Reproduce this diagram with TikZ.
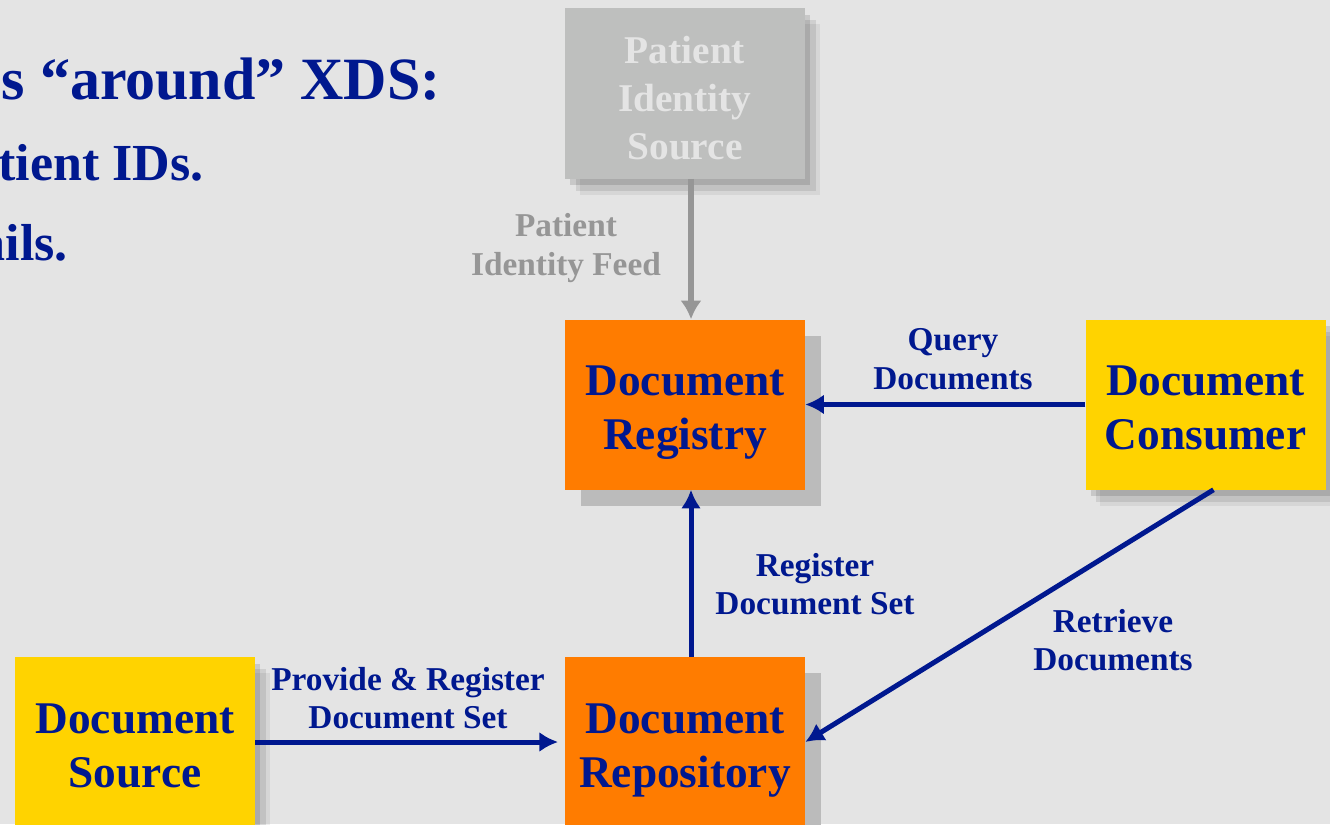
\documentclass[tikz,border=0pt]{standalone}
\usepackage{fontspec}
\setmainfont{Liberation Serif}
\usetikzlibrary{arrows.meta,shadows}
\definecolor{navy}{RGB}{0,24,143}
\definecolor{slidebg}{RGB}{228,228,228}
\definecolor{actororange}{RGB}{255,124,0}
\definecolor{actoryellow}{RGB}{255,211,0}
\definecolor{boxgray}{RGB}{190,191,190}
\definecolor{feedgray}{RGB}{150,150,150}
\definecolor{shadegray}{RGB}{187,187,187}
\tikzset{
  txn/.style={-{Latex[length=14pt,width=15pt]}, line width=3.75pt, draw=navy},
  feed/.style={-{Latex[length=14pt,width=16pt]}, line width=4.5pt, draw=feedgray},
  actor/.style={minimum width=180pt, minimum height=127.5pt, inner sep=0pt, align=center,
    text height=70pt, text depth=2pt,
    font=\bfseries\fontsize{34}{40.5}\selectfont, text=navy},
  softshadow/.style={drop shadow={shadow xshift=4pt,shadow yshift=-5pt,opacity=.12,fill=black},
    drop shadow={shadow xshift=8pt,shadow yshift=-9pt,opacity=.09,fill=black},
    drop shadow={shadow xshift=11pt,shadow yshift=-12pt,opacity=.06,fill=black}},
  corebox/.style={actor, fill=actororange,
    drop shadow={shadow xshift=12pt,shadow yshift=-12pt,opacity=1,fill=shadegray}},
  sidebox/.style={actor, fill=actoryellow, softshadow},
  lbl/.style={align=center, inner sep=0pt, text=navy, font=\bfseries\fontsize{25}{29}\selectfont},
  heading/.style={inner sep=0pt, text=navy, anchor=base east, font=\bfseries\fontsize{45}{54}\selectfont},
  subhead/.style={inner sep=0pt, text=navy, anchor=base east, font=\bfseries\fontsize{39}{47}\selectfont}
}
\begin{document}
\begin{tikzpicture}[x=0.75pt,y=-0.75pt]
  \useasboundingbox (0,0) rectangle (1330,824);
  \clip (0,0) rectangle (1330,824);
  \fill[slidebg] (0,0) rectangle (1330,824);
  % slide text cut at the left edge
  \node[heading] (title) at (441,99) {s “around” XDS:};
  \node[subhead] (ids) at (204,180) {tient IDs.};
  \node[subhead] (details) at (68,260) {ails.};
  % actors
  \node[actor, fill=boxgray, text=slidebg, softshadow, text height=100pt, text depth=1pt,
    font=\bfseries\fontsize{29.5}{36}\selectfont] (pis) at (685,93.5) {Patient\\Identity\\Source};
  \node[corebox] (registry) at (685,404.5) {Document\\Registry};
  \node[sidebox] (consumer) at (1205.5,404.5) {Document\\Consumer};
  \node[corebox] (repository) at (685,742) {Document\\Repository};
  \node[sidebox] (source) at (135,742) {Document\\Source};
  % transactions
  \draw[feed] ([xshift=4.5pt]pis.south) -- ([xshift=4.5pt]registry.north);
  \draw[txn] (consumer) -- (registry);
  \draw[txn] ([xshift=4.5pt]repository.north) -- ([xshift=4.5pt]registry.south);
  \draw[txn, shorten >=5pt] (source) -- (repository);
  \draw[txn] ([xshift=6pt]consumer.south) -- (repository.east);
  \node[lbl, text=feedgray] (pif) at (566,248) {Patient\\Identity Feed};
  \node[lbl] (qd) at (953,359) {Query\\Documents};
  \node[lbl] (rds) at (815,584) {Register\\Document Set};
  \node[lbl] (rd) at (1113,640) {Retrieve\\Documents};
  \node[lbl] (prds) at (408,698) {Provide \& Register\\Document Set};
\end{tikzpicture}
\end{document}
